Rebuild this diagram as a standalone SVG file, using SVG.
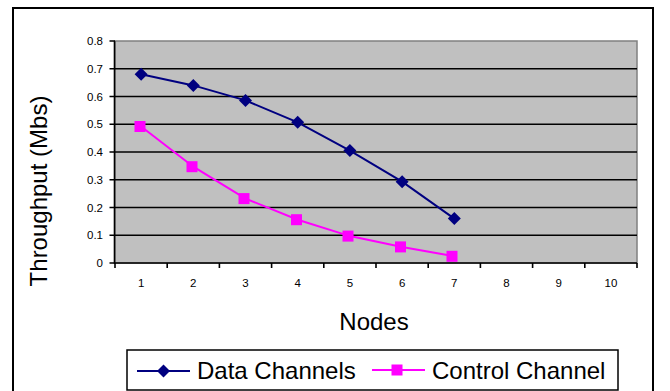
<svg xmlns="http://www.w3.org/2000/svg" width="670" height="391" viewBox="0 0 670 391">
  <defs>
    <style>
      text { font-family: "Liberation Sans", Arial, sans-serif; fill: #000; }
      .tick { font-size: 11.5px; }
      .ylab { text-anchor: end; }
      .xlab { text-anchor: middle; }
      .title { font-size: 24px; }
      .leg { font-size: 24px; }
      .grid { stroke: #000; stroke-width: 1.6; }
      .axis { stroke: #000; stroke-width: 1.6; fill: none; }
      .data { stroke: #000080; stroke-width: 2; fill: none; }
      .ctrl { stroke: #FF00FF; stroke-width: 2; fill: none; }
    </style>
    <path id="diamond" d="M0,-6.5 L6.5,0 L0,6.5 L-6.5,0 Z" fill="#000080"/>
    <rect id="square" x="-5.5" y="-5.5" width="11" height="11" fill="#FF00FF"/>
  </defs>

  <!-- chart area -->
  <rect x="13" y="8" width="640" height="392" fill="#fff" stroke="#000" stroke-width="2"/>

  <!-- plot area -->
  <rect x="115" y="41" width="522" height="222" fill="#C0C0C0" stroke="#808080" stroke-width="1.5"/>

  <!-- horizontal gridlines -->
  <g id="gridlines">
    <line class="grid" x1="115" y1="68.75" x2="637" y2="68.75"/>
    <line class="grid" x1="115" y1="96.5" x2="637" y2="96.5"/>
    <line class="grid" x1="115" y1="124.25" x2="637" y2="124.25"/>
    <line class="grid" x1="115" y1="152" x2="637" y2="152"/>
    <line class="grid" x1="115" y1="179.75" x2="637" y2="179.75"/>
    <line class="grid" x1="115" y1="207.5" x2="637" y2="207.5"/>
    <line class="grid" x1="115" y1="235.25" x2="637" y2="235.25"/>
  </g>

  <!-- axes and ticks -->
  <g id="axes">
    <path class="axis" d="M114.5,41 V263 H637"/>
    <path class="axis" d="M109.5,41 H115 M109.5,68.75 H115 M109.5,96.5 H115 M109.5,124.25 H115 M109.5,152 H115 M109.5,179.75 H115 M109.5,207.5 H115 M109.5,235.25 H115 M109.5,263 H115"/>
    <path class="axis" d="M115,263 V268 M167.2,263 V268 M219.4,263 V268 M271.6,263 V268 M323.8,263 V268 M376,263 V268 M428.2,263 V268 M480.4,263 V268 M532.6,263 V268 M584.8,263 V268 M637,263 V268"/>
  </g>

  <!-- y tick labels -->
  <g id="y-labels" class="tick ylab">
    <text x="103" y="45">0.8</text>
    <text x="103" y="72.75">0.7</text>
    <text x="103" y="100.5">0.6</text>
    <text x="103" y="128.25">0.5</text>
    <text x="103" y="156">0.4</text>
    <text x="103" y="183.75">0.3</text>
    <text x="103" y="211.5">0.2</text>
    <text x="103" y="239.25">0.1</text>
    <text x="103" y="267">0</text>
  </g>

  <!-- x tick labels -->
  <g id="x-labels" class="tick xlab">
    <text x="141.1" y="287">1</text>
    <text x="193.3" y="287">2</text>
    <text x="245.5" y="287">3</text>
    <text x="297.7" y="287">4</text>
    <text x="349.9" y="287">5</text>
    <text x="402.1" y="287">6</text>
    <text x="454.3" y="287">7</text>
    <text x="506.5" y="287">8</text>
    <text x="558.7" y="287">9</text>
    <text x="610.9" y="287">10</text>
  </g>

  <!-- axis titles -->
  <text class="title" x="374" y="330" text-anchor="middle">Nodes</text>
  <text class="title" transform="translate(47,191) rotate(-90)" text-anchor="middle">Throughput (Mbs)</text>

  <!-- series: Data Channels -->
  <g id="series-data">
    <polyline class="data" points="141.1,74.3 193.3,85.4 245.5,100.4 297.7,122.3 349.9,150.6 402.1,181.7 454.3,218.6"/>
    <use href="#diamond" x="141.1" y="74.3"/>
    <use href="#diamond" x="193.3" y="85.4"/>
    <use href="#diamond" x="245.5" y="100.4"/>
    <use href="#diamond" x="297.7" y="122.3"/>
    <use href="#diamond" x="349.9" y="150.6"/>
    <use href="#diamond" x="402.1" y="181.7"/>
    <use href="#diamond" x="454.3" y="218.6"/>
  </g>

  <!-- series: Control Channel -->
  <g id="series-control">
    <polyline class="ctrl" points="141.1,126.5 193.3,166.7 245.5,198.6 297.7,219.7 349.9,236.1 402.1,246.9 454.3,256.3"/>
    <use href="#square" x="140" y="126.5"/>
    <use href="#square" x="192" y="166.7"/>
    <use href="#square" x="244" y="198.6"/>
    <use href="#square" x="296.5" y="219.7"/>
    <use href="#square" x="348" y="236.1"/>
    <use href="#square" x="400.5" y="246.9"/>
    <use href="#square" x="452" y="256.3"/>
  </g>

  <!-- legend -->
  <g id="legend">
    <rect x="127" y="350" width="491" height="40" fill="#fff" stroke="#000" stroke-width="1.5"/>
    <line class="data" x1="137" y1="371" x2="190" y2="371"/>
    <use href="#diamond" x="163.5" y="371"/>
    <text class="leg" x="197" y="379">Data Channels</text>
    <line class="ctrl" x1="372" y1="370" x2="425" y2="370"/>
    <use href="#square" x="397" y="370"/>
    <text class="leg" x="432" y="379">Control Channel</text>
  </g>
</svg>
